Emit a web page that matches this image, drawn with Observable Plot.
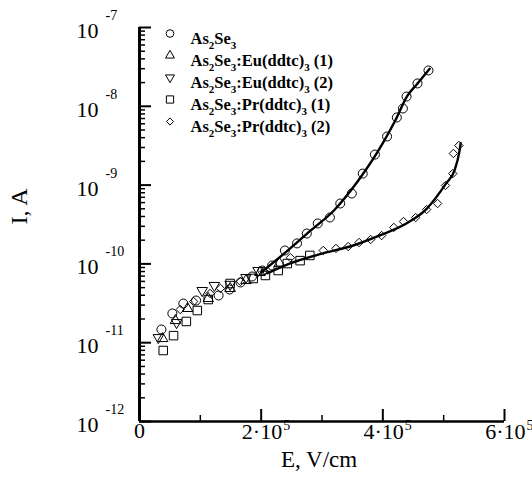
<!DOCTYPE html>
<html>
<head>
<meta charset="utf-8">
<script src="https://cdn.jsdelivr.net/npm/d3@7"></script>
<script src="https://cdn.jsdelivr.net/npm/@observablehq/plot@0.6"></script>
<style>
  html, body { margin: 0; padding: 0; background: #fff; }
  #chart svg { display: block; }
</style>
</head>
<body>
<div id="chart"></div>
<script>
// E in units of 10^5 V/cm, I in A
const seriesNames = ["As2Se3", "As2Se3:Eu(ddtc)3 (1)", "As2Se3:Eu(ddtc)3 (2)", "As2Se3:Pr(ddtc)3 (1)", "As2Se3:Pr(ddtc)3 (2)"];

const asSe3 = [[0.36,1.47e-11],[0.54,2.35e-11],[0.72,3.14e-11],[0.93,3.43e-11],[1.30,3.97e-11],[1.48,4.73e-11],[1.66,5.81e-11],[1.85,6.92e-11],[2.02,8.24e-11],[2.18,9.54e-11],[2.39,1.48e-10],[2.59,1.82e-10],[2.75,2.43e-10],[2.93,3.26e-10],[3.13,3.88e-10],[3.30,5.84e-10],[3.49,7.82e-10],[3.67,1.40e-9],[3.87,2.44e-9],[4.07,4.14e-9],[4.23,7.21e-9],[4.33,9.38e-9],[4.39,1.33e-8],[4.57,1.95e-8],[4.75,2.85e-8]];
const euDdtc1 = [[0.38,1.13e-11],[0.59,1.91e-11],[0.79,2.72e-11],[1.13,3.64e-11],[1.49,4.88e-11],[1.75,6.15e-11],[1.98,7.78e-11],[2.30,1.02e-10]];
const euDdtc2 = [[0.31,1.16e-11],[0.61,1.80e-11],[1.03,4.59e-11],[1.23,5.32e-11],[1.49,5.5e-11],[1.75,6.71e-11],[1.95,8.24e-11]];
const prDdtc1 = [[0.39,7.96e-12],[0.56,1.23e-11],[0.77,1.86e-11],[0.95,2.56e-11],[1.13,3.53e-11],[1.49,5.64e-11],[1.87,6.53e-11],[2.07,7.13e-11],[2.28,8.24e-11],[2.43,1.01e-10],[2.64,1.10e-10],[2.80,1.28e-10]];
const prDdtc2 = [[0.67,2.64e-11],[0.89,3.33e-11],[1.16,4.21e-11],[1.33,4.88e-11],[1.66,5.98e-11],[2.05,8.02e-11],[2.48,1.20e-10],[3.02,1.48e-10],[3.23,1.57e-10],[3.43,1.66e-10],[3.61,1.87e-10],[3.80,2.04e-10],[3.98,2.29e-10],[4.18,2.90e-10],[4.34,3.45e-10],[4.54,3.88e-10],[4.72,4.90e-10],[4.90,5.84e-10],[5.03,9.88e-10],[5.15,1.40e-9],[5.16,2.52e-9],[5.25,3.18e-9]];

const fitUpper = [[2.0,7.8e-11],[2.4,1.4e-10],[2.8,2.6e-10],[3.2,4.8e-10],[3.6,1.15e-9],[4.0,3.4e-9],[4.2,6.5e-9],[4.4,1.35e-8],[4.57,1.95e-8],[4.77,3.0e-8]];
const fitLower = [[2.1,7.6e-11],[2.5,1.03e-10],[3.0,1.35e-10],[3.5,1.7e-10],[3.95,2.3e-10],[4.4,3.3e-10],[4.72,5.0e-10],[5.04,1.05e-9],[5.18,1.55e-9],[5.26,2.7e-9],[5.28,3.4e-9]];

const xMajorTicks = [0, 2, 4, 6];
const xMinorTicks = [1, 3, 5];
const xTickExp = "5";
const yExponents = [-7, -8, -9, -10, -11, -12];
const yMinorTicks = [];
for (const k of [-12, -11, -10, -9, -8]) for (let m = 2; m <= 9; m++) yMinorTicks.push(m * Math.pow(10, k));

const W = 532, H = 491;
const mL = 139, mR = 28, mT = 27, mB = 70;
const fw = W - mL - mR, fh = H - mT - mB;

const allSeries = [asSe3, euDdtc1, euDdtc2, prDdtc1, prDdtc2];
const symbols = [
  {symbol: "circle", r: 4.5, rotate: 0},
  {symbol: "triangle", r: 3.9, rotate: 0},
  {symbol: "triangle", r: 3.9, rotate: 180},
  {symbol: "square", r: 4.8, rotate: 0},
  {symbol: "diamond2", r: 3.8, rotate: 0}
];
const serif = "'Liberation Serif', 'Times New Roman', serif";

const marks = [];
// axes lines
marks.push(Plot.ruleX([0], {strokeWidth: 3}));
marks.push(Plot.ruleY([1e-12], {strokeWidth: 2.5}));
// ticks (inward)
marks.push(Plot.tickY(yExponents.map(e => Math.pow(10, e)), {y: d => d, insetRight: fw - 12, strokeWidth: 2}));
marks.push(Plot.tickY(yMinorTicks, {y: d => d, insetRight: fw - 6, strokeWidth: 1.5}));
marks.push(Plot.tickX(xMajorTicks, {x: d => d, insetTop: fh - 12, strokeWidth: 2}));
marks.push(Plot.tickX(xMinorTicks, {x: d => d, insetTop: fh - 6, strokeWidth: 1.5}));

// data points
allSeries.forEach((s, i) => {
  marks.push(Plot.dot(s, {x: d => d[0], y: d => d[1], symbol: symbols[i].symbol, r: symbols[i].r, rotate: symbols[i].rotate, stroke: "black", fill: "none", strokeWidth: 1}));
});
// fit lines
marks.push(Plot.line(fitUpper, {x: d => d[0], y: d => d[1], curve: "monotone-x", stroke: "black", strokeWidth: 2.4}));
marks.push(Plot.line(fitLower, {x: d => d[0], y: d => d[1], curve: "monotone-x", stroke: "black", strokeWidth: 2.4}));

// y tick labels
marks.push(Plot.text(yExponents, {y: e => Math.pow(10, e), text: () => "10", frameAnchor: "left", textAnchor: "end", dx: -41, dy: 3.5, fontSize: 22, fontFamily: serif}));
marks.push(Plot.text(yExponents, {y: e => Math.pow(10, e), text: e => String(e), frameAnchor: "left", textAnchor: "start", dx: -34, dy: -12, fontSize: 14, fontFamily: serif}));
// x tick labels
marks.push(Plot.text(xMajorTicks.filter(d => d === 0), {x: d => d, text: () => "0", frameAnchor: "bottom", textAnchor: "middle", dy: 16, fontSize: 22, fontFamily: serif}));
marks.push(Plot.text(xMajorTicks.filter(d => d !== 0), {x: d => d, text: d => d + "·10", frameAnchor: "bottom", textAnchor: "end", dx: 21, dy: 17, fontSize: 22, fontFamily: serif}));
marks.push(Plot.text(xMajorTicks.filter(d => d !== 0), {x: d => d, text: () => xTickExp, frameAnchor: "bottom", textAnchor: "start", dx: 22, dy: 8, fontSize: 14, fontFamily: serif}));
// axis titles
marks.push(Plot.text(["E, V/cm"], {text: d => d, frameAnchor: "bottom", dx: -3, dy: 45, fontSize: 23, fontFamily: serif}));
marks.push(Plot.text(["I, A"], {text: d => d, frameAnchor: "left", rotate: -90, dx: -120, dy: 0, fontSize: 24, fontFamily: serif}));

// legend
seriesNames.forEach((name, i) => {
  marks.push(Plot.dot([name], {frameAnchor: "top-left", dx: 30.5, dy: 6 + 22 * i, symbol: symbols[i].symbol, r: symbols[i].r * 0.85, rotate: symbols[i].rotate, stroke: "black", fill: "none", strokeWidth: 1}));
  marks.push(Plot.text([name], {text: d => d, frameAnchor: "top-left", textAnchor: "start", dx: 51, dy: 5 + 22 * i, fontSize: 16.5, fontWeight: "bold", fontFamily: serif}));
});

const chart = Plot.plot({
  width: W, height: H,
  marginLeft: mL, marginRight: mR, marginTop: mT, marginBottom: mB,
  style: {background: "#fff", color: "black", fontFamily: serif},
  x: {domain: [0, 6], axis: null},
  y: {type: "log", domain: [1e-12, 1e-7], axis: null},
  marks
});

// subscripts in legend labels
const ns = "http://www.w3.org/2000/svg";
chart.querySelectorAll("text").forEach(el => {
  const s = el.textContent;
  if (!seriesNames.includes(s)) return;
  while (el.firstChild) el.removeChild(el.firstChild);
  const groups = [];
  for (let i = 0; i < s.length; i++) {
    const c = s[i];
    const sub = /\d/.test(c) && i > 0 && /[A-Za-z)]/.test(s[i - 1]);
    if (groups.length && groups[groups.length - 1].sub === sub) groups[groups.length - 1].t += c;
    else groups.push({sub, t: c});
  }
  let prevSub = false;
  groups.forEach(g => {
    const ts = document.createElementNS(ns, "tspan");
    ts.textContent = g.t;
    if (g.sub) { ts.setAttribute("font-size", "11"); ts.setAttribute("dy", "4.5"); }
    else if (prevSub) { ts.setAttribute("dy", "-4.5"); }
    prevSub = g.sub;
    el.appendChild(ts);
  });
});

document.getElementById("chart").appendChild(chart);
</script>
</body>
</html>
